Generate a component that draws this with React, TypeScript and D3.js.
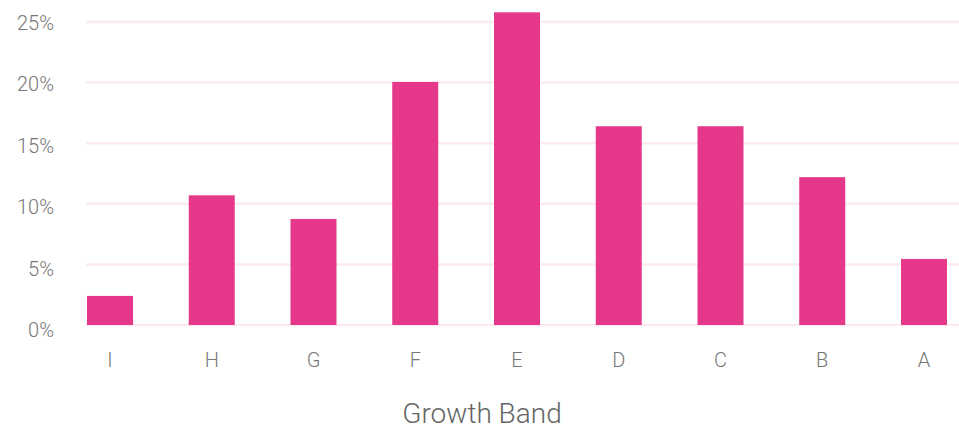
import React from "react";
import * as d3 from "d3";

const categories = ["I", "H", "G", "F", "E", "D", "C", "B", "A"];
const shares = [2.4, 10.7, 8.75, 20.05, 25.8, 16.4, 16.4, 12.2, 5.45];
const yTicks = [0, 5, 10, 15, 20, 25];
const xTitle = "Growth Band";

const W = 959;
const H = 430;
const FONT = "Roboto, 'DejaVu Sans', sans-serif";

export default function App() {
  const step = 101.75;
  const bandW = 46;
  const gap = step - bandW;
  const x = d3
    .scaleBand<string>()
    .domain(categories)
    .range([87 - gap / 2, 87 - gap / 2 + categories.length * step])
    .paddingInner(gap / step)
    .paddingOuter(gap / step / 2);
  const y = d3.scaleLinear().domain([0, 25]).range([325, 22]);
  const yLabel = d3.scaleLinear().domain([0, 25]).range([330, 22.5]);

  return (
    <svg
      width={W}
      height={H}
      style={{ position: "absolute", left: 0, top: 0, background: "#fff" }}
    >
      {yTicks.map((t) => (
        <line
          key={"g" + t}
          x1={86}
          x2={W}
          y1={y(t)}
          y2={y(t)}
          stroke="#fdeaf1"
          strokeWidth={2.5}
        />
      ))}
      {yTicks.map((t) => (
        <text
          key={"t" + t}
          x={54}
          y={yLabel(t)}
          textAnchor="end"
          dominantBaseline="central"
          fontFamily={FONT}
          fontWeight={300}
          fontSize={20}
          fill="#777"
        >
          {t + "%"}
        </text>
      ))}
      {categories.map((c, i) => (
        <rect
          key={c}
          x={x(c)}
          y={y(shares[i])}
          width={x.bandwidth()}
          height={y(0) - y(shares[i])}
          fill="#e6388a"
        />
      ))}
      {categories.map((c) => (
        <text
          key={"x" + c}
          x={(x(c) as number) + x.bandwidth() / 2}
          y={367}
          textAnchor="middle"
          fontFamily={FONT}
          fontWeight={300}
          fontSize={20}
          fill="#777"
        >
          {c}
        </text>
      ))}
      <text
        x={482}
        y={423}
        textAnchor="middle"
        fontFamily={FONT}
        fontWeight={300}
        fontSize={28}
        fill="#666"
      >
        {xTitle}
      </text>
    </svg>
  );
}
